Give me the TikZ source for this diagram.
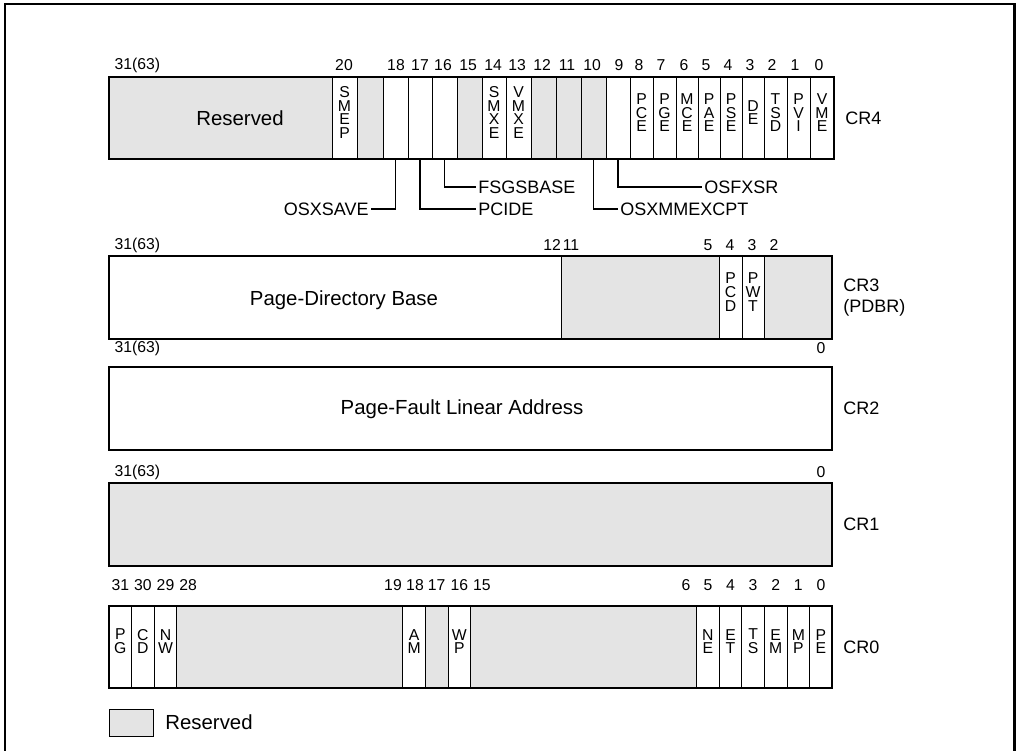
\documentclass[tikz,border=0pt]{standalone}
\usepackage{fontspec}
\setmainfont{Liberation Sans}
\usetikzlibrary{positioning,fit}
\definecolor{resv}{RGB}{228,228,228}
\definecolor{ink}{RGB}{0,0,0}
\tikzset{
  cell/.style={draw=ink,line width=0.7pt,inner sep=0pt,align=center,font=\fontsize{11.2}{9.9}\selectfont},
  rsv/.style={cell,fill=resv},
  reg/.style={draw=ink,line width=2.1pt,inner sep=0pt},
  num/.style={inner sep=1pt,font=\fontsize{11.2}{13}\selectfont},
  big/.style={inner sep=0pt,font=\fontsize{14.5}{17}\selectfont},
  crname/.style={inner sep=0pt,align=left,font=\fontsize{12.8}{15}\selectfont},
  flag/.style={inner sep=1.5pt,font=\fontsize{12.8}{15}\selectfont},
  call/.style={draw=ink,line width=1.4pt},
  outerframe/.style={draw=ink,line width=1.8pt},
}

\begin{document}
\begin{tikzpicture}[x=0.025cm,y=-0.025cm]
  \useasboundingbox (0,0) rectangle (1016,750);
  \draw[outerframe] (5,760) -- (5,4) -- (1014.5,4) -- (1014.5,760);

  % CR4
  \node[rsv,fit={(109,77)(332,159)}] (c4r) {};
  \node[cell,fit={(332,77)(357,159)}] (smep) {S\\M\\E\\P};
  \node[rsv,fit={(357,77)(383,159)}] (c4b19) {};
  \node[cell,fit={(383,77)(408,159)}] (osxsave) {};
  \node[cell,fit={(408,77)(432,159)}] (pcide) {};
  \node[cell,fit={(432,77)(457,159)}] (fsgsbase) {};
  \node[rsv,fit={(457,77)(482,159)}] (c4b15) {};
  \node[cell,fit={(482,77)(506,159)}] (smxe) {S\\M\\X\\E};
  \node[cell,fit={(506,77)(531,159)}] (vmxe) {V\\M\\X\\E};
  \node[rsv,fit={(531,77)(556,159)}] (c4b12) {};
  \node[rsv,fit={(556,77)(581,159)}] (c4b11) {};
  \node[rsv,fit={(581,77)(606,159)}] (osxmm) {};
  \node[cell,fit={(606,77)(630,159)}] (osfxsr) {};
  \node[cell,fit={(630,77)(653,159)}] (pce) {P\\C\\E};
  \node[cell,fit={(653,77)(676,159)}] (pge) {P\\G\\E};
  \node[cell,fit={(676,77)(698,159)}] (mce) {M\\C\\E};
  \node[cell,fit={(698,77)(720,159)}] (pae) {P\\A\\E};
  \node[cell,fit={(720,77)(742,159)}] (pse) {P\\S\\E};
  \node[cell,fit={(742,77)(764,159)}] (de) {D\\E};
  \node[cell,fit={(764,77)(787,159)}] (tsd) {T\\S\\D};
  \node[cell,fit={(787,77)(810,159)}] (pvi) {P\\V\\I};
  \node[cell,fit={(810,77)(834,159)}] (vme) {V\\M\\E};
  \node[reg,fit={(109,77)(834,159)}] (cr4) {};
  \node[big] (c4rtxt) at (240,118) {Reserved};
  \node[crname,right=2.4mm of cr4] (lcr4) {CR4};
  \node[num,anchor=west] (n4-31) at (113,65) {31(63)};
  \node[num] (n4-20) at (344,65) {20};
  \node[num] (n4-18) at (396,65) {18}; \node[num] (n4-17) at (420,65) {17};
  \node[num] (n4-16) at (443,65) {16}; \node[num] (n4-15) at (468,65) {15};
  \node[num] (n4-14) at (493,65) {14}; \node[num] (n4-13) at (517,65) {13};
  \node[num] (n4-12) at (542,65) {12}; \node[num] (n4-11) at (567,65) {11};
  \node[num] (n4-10) at (592,65) {10}; \node[num] (n4-9) at (619,65) {9};
  \node[num] (n4-8) at (639,65) {8};  \node[num] (n4-7) at (661,65) {7};
  \node[num] (n4-6) at (684,65) {6};  \node[num] (n4-5) at (706,65) {5};
  \node[num] (n4-4) at (728,65) {4};  \node[num] (n4-3) at (750,65) {3};
  \node[num] (n4-2) at (772,65) {2};  \node[num] (n4-1) at (795,65) {1};
  \node[num] (n4-0) at (819,65) {0};

  % CR4 flag callouts
  \node[flag,anchor=east] (losxsave) at (371,209) {OSXSAVE};
  \node[flag,anchor=west] (lpcide) at (476,209) {PCIDE};
  \node[flag,anchor=west] (lfsgs) at (476,187) {FSGSBASE};
  \node[flag,anchor=west] (lxmm) at (618,209) {OSXMMEXCPT};
  \node[flag,anchor=west] (lfxsr) at (702,187) {OSFXSR};
  \draw[call] (osxsave.south) |- (losxsave.east);
  \draw[call] (pcide.south) |- (lpcide.west);
  \draw[call] (fsgsbase.south) |- (lfsgs.west);
  \draw[call] (osxmm.south) |- (lxmm.west);
  \draw[call] (osfxsr.south) |- (lfxsr.west);

  % CR3
  \node[cell,fit={(109,256)(561,339)}] (pdb) {};
  \node[rsv,fit={(561,256)(719,339)}] (c3r1) {};
  \node[cell,fit={(719,256)(742,339)}] (pcd) {P\\C\\D};
  \node[cell,fit={(742,256)(764,339)}] (pwt) {P\\W\\T};
  \node[rsv,fit={(764,256)(832,339)}] (c3r2) {};
  \node[reg,fit={(109,256)(832,339)}] (cr3) {};
  \node[big] (pdbtxt) at (344,300) {Page-Directory Base};
  \node[crname,right=2.4mm of cr3] (lcr3) {CR3\\(PDBR)};
  \node[num,anchor=west] (n3-31) at (113,245) {31(63)};
  \node[num] (n3-12) at (552,245) {12}; \node[num] (n3-11) at (571,245) {11};
  \node[num] (n3-5) at (708,245) {5};   \node[num] (n3-4) at (730,245) {4};
  \node[num] (n3-3) at (752,245) {3};   \node[num] (n3-2) at (774,245) {2};

  % CR2
  \node[cell,fit={(109,367)(832,450)}] (pfla) {};
  \node[reg,fit={(109,367)(832,450)}] (cr2) {};
  \node[big] (pflatxt) at (462,409) {Page-Fault Linear Address};
  \node[crname,right=2.4mm of cr2] (lcr2) {CR2};
  \node[num,anchor=west] (n2-31) at (113,348) {31(63)};
  \node[num] (n2-0) at (821,348) {0};

  % CR1
  \node[rsv,fit={(109,483)(832,566)}] (c1r) {};
  \node[reg,fit={(109,483)(832,566)}] (cr1) {};
  \node[crname,right=2.4mm of cr1] (lcr1) {CR1};
  \node[num,anchor=west] (n1-31) at (113,472) {31(63)};
  \node[num] (n1-0) at (821,472) {0};

  % CR0
  \node[cell,fit={(109,606)(131.6,688)}] (pg) {P\\G};
  \node[cell,fit={(131.6,606)(154.2,688)}] (cd) {C\\D};
  \node[cell,fit={(154.2,606)(176.8,688)}] (nw) {N\\W};
  \node[rsv,fit={(176.8,606)(402.8,688)}] (c0r1) {};
  \node[cell,fit={(402.8,606)(425.4,688)}] (am) {A\\M};
  \node[rsv,fit={(425.4,606)(448,688)}] (c0r2) {};
  \node[cell,fit={(448,606)(470.6,688)}] (wp) {W\\P};
  \node[rsv,fit={(470.6,606)(696.6,688)}] (c0r3) {};
  \node[cell,fit={(696.6,606)(719.2,688)}] (ne) {N\\E};
  \node[cell,fit={(719.2,606)(741.8,688)}] (et) {E\\T};
  \node[cell,fit={(741.8,606)(764.4,688)}] (ts) {T\\S};
  \node[cell,fit={(764.4,606)(787,688)}] (em) {E\\M};
  \node[cell,fit={(787,606)(809.6,688)}] (mp) {M\\P};
  \node[cell,fit={(809.6,606)(832,688)}] (pe) {P\\E};
  \node[reg,fit={(109,606)(832,688)}] (cr0) {};
  \node[crname,right=2.4mm of cr0] (lcr0) {CR0};
  \node[num] (n0-31) at (120.3,585) {31}; \node[num] (n0-30) at (142.9,585) {30};
  \node[num] (n0-29) at (165.5,585) {29}; \node[num] (n0-28) at (188.1,585) {28};
  \node[num] (n0-19) at (393,585) {19};   \node[num] (n0-18) at (415,585) {18};
  \node[num] (n0-17) at (436.7,585) {17}; \node[num] (n0-16) at (459.3,585) {16};
  \node[num] (n0-15) at (481.9,585) {15}; \node[num] (n0-6) at (686,585) {6};
  \node[num] (n0-5) at (707.9,585) {5};   \node[num] (n0-4) at (730.5,585) {4};
  \node[num] (n0-3) at (753.1,585) {3};   \node[num] (n0-2) at (775.7,585) {2};
  \node[num] (n0-1) at (798.3,585) {1};   \node[num] (n0-0) at (820.9,585) {0};

  % legend
  \node[rsv,fit={(109,709)(153,736)}] (lgbox) {};
  \node[big,right=2.9mm of lgbox] (lgtxt) {Reserved};
\end{tikzpicture}
\end{document}
